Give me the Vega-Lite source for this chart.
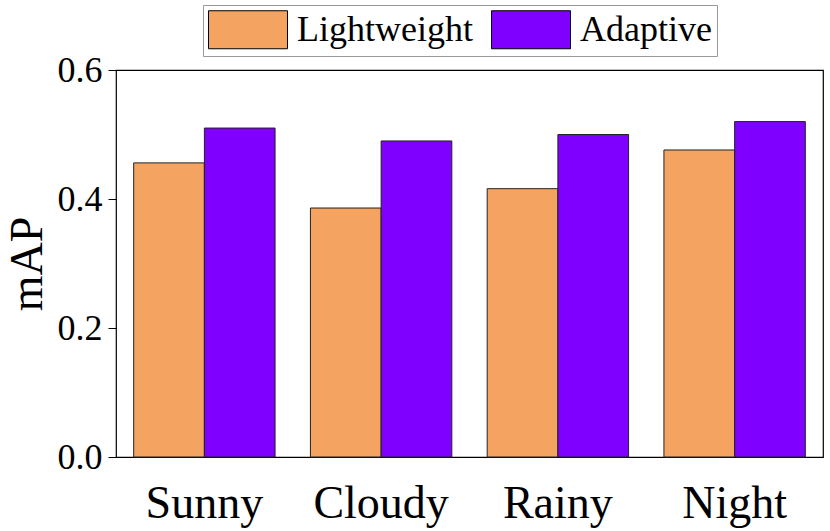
{
  "$schema": "https://vega.github.io/schema/vega-lite/v6.json",
  "width": 707,
  "height": 387,
  "autosize": {"type": "none"},
  "padding": {"left": 116, "top": 70, "right": 7, "bottom": 74},
  "data": {
    "values": [
      {"condition": "Sunny", "method": "Lightweight", "mAP": 0.456},
      {"condition": "Sunny", "method": "Adaptive", "mAP": 0.510},
      {"condition": "Cloudy", "method": "Lightweight", "mAP": 0.386},
      {"condition": "Cloudy", "method": "Adaptive", "mAP": 0.490},
      {"condition": "Rainy", "method": "Lightweight", "mAP": 0.416},
      {"condition": "Rainy", "method": "Adaptive", "mAP": 0.500},
      {"condition": "Night", "method": "Lightweight", "mAP": 0.476},
      {"condition": "Night", "method": "Adaptive", "mAP": 0.520}
    ]
  },
  "mark": {"type": "bar", "stroke": "#222", "strokeWidth": 1},
  "encoding": {
    "x": {
      "field": "condition", "type": "nominal",
      "sort": ["Sunny", "Cloudy", "Rainy", "Night"],
      "scale": {"paddingInner": 0.2, "paddingOuter": 0.1},
      "axis": {
        "title": null, "labelAngle": 0, "ticks": false, "domain": false,
        "labelFont": "Liberation Serif", "labelFontSize": 46,
        "labelColor": "black", "labelPadding": 24
      }
    },
    "xOffset": {
      "field": "method", "type": "nominal",
      "sort": ["Lightweight", "Adaptive"],
      "scale": {"paddingInner": 0, "paddingOuter": 0}
    },
    "y": {
      "field": "mAP", "type": "quantitative",
      "scale": {"domain": [0, 0.6], "nice": false},
      "axis": {
        "values": [0, 0.2, 0.4, 0.6], "format": ".1f", "grid": false,
        "domain": false, "tickColor": "black", "tickSize": 8, "tickWidth": 1,
        "labelFont": "Liberation Serif", "labelFontSize": 36,
        "labelColor": "black", "labelPadding": 6,
        "title": "mAP", "titleFont": "Liberation Serif", "titleFontSize": 46,
        "titleFontWeight": "normal", "titleColor": "black", "titlePadding": 6
      }
    },
    "color": {
      "field": "method", "type": "nominal",
      "sort": ["Lightweight", "Adaptive"],
      "scale": {"domain": ["Lightweight", "Adaptive"], "range": ["#F4A460", "#8000FF"]},
      "legend": {
        "orient": "none", "legendX": 87, "legendY": -65,
        "direction": "horizontal", "title": null,
        "symbolType": "M-1,-1L3.158,-1L3.158,1L-1,1Z",
        "symbolSize": 1444, "symbolStrokeColor": "black", "symbolStrokeWidth": 1,
        "symbolOpacity": 1,
        "labelFont": "Liberation Serif", "labelFontSize": 36, "labelColor": "black",
        "labelLimit": 400, "labelOffset": 50, "columnPadding": 16, "padding": 5,
        "strokeColor": "#999", "fillColor": "white", "cornerRadius": 0
      }
    }
  },
  "config": {
    "view": {"stroke": "black", "strokeWidth": 1.2}
  }
}
